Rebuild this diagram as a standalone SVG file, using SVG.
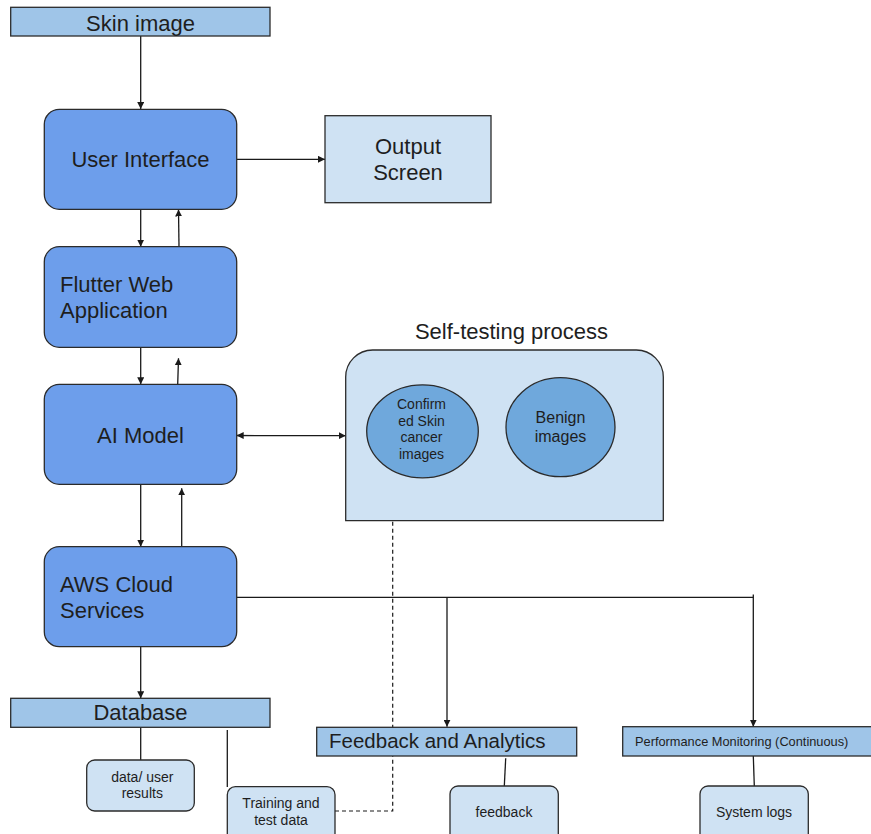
<svg xmlns="http://www.w3.org/2000/svg" width="871" height="834" viewBox="0 0 871 834">
<defs>
<style>
text{font-family:"Liberation Sans",Arial,sans-serif;fill:#1e1e1e}
.big{font-size:22px}
.sm{font-size:14px}
.c{text-anchor:middle}
.dark{fill:#6d9eeb;stroke:#2b2b2b;stroke-width:1.3}
.mid{fill:#9fc5e8;stroke:#2b2b2b;stroke-width:1.3}
.light{fill:#cfe2f3;stroke:#2b2b2b;stroke-width:1.3}
.ell{fill:#6fa8dc;stroke:#2b2b2b;stroke-width:1.3}
.ln{fill:none;stroke:#1a1a1a;stroke-width:1.3}
.dash{fill:none;stroke:#1a1a1a;stroke-width:1.2;stroke-dasharray:4 3}
</style>
<marker id="ah" viewBox="0 0 10 10" refX="10" refY="5" markerWidth="7" markerHeight="7" markerUnits="userSpaceOnUse" orient="auto-start-reverse">
<path d="M0,0 L10,5 L0,10 z" fill="#1a1a1a"/>
</marker>
</defs>
<rect width="871" height="834" fill="#ffffff"/>

<g id="connectors">
<line class="ln" x1="140.7" y1="36" x2="140.7" y2="109" marker-end="url(#ah)"/>
<line class="ln" x1="236.7" y1="159.3" x2="325" y2="159.3" marker-end="url(#ah)"/>
<line class="ln" x1="140.7" y1="209.3" x2="140.7" y2="246.7" marker-end="url(#ah)"/>
<line class="ln" x1="179" y1="246.7" x2="178.5" y2="209.5" marker-end="url(#ah)"/>
<line class="ln" x1="140.7" y1="347.3" x2="140.7" y2="384.3" marker-end="url(#ah)"/>
<line class="ln" x1="177.7" y1="384.3" x2="178.5" y2="358.3" marker-end="url(#ah)"/>
<line class="ln" x1="236.7" y1="435.5" x2="345.7" y2="435.7" marker-start="url(#ah)" marker-end="url(#ah)"/>
<line class="ln" x1="140.7" y1="484.3" x2="140.7" y2="546.7" marker-end="url(#ah)"/>
<line class="ln" x1="181.7" y1="546.7" x2="181.7" y2="488.3" marker-end="url(#ah)"/>
<polyline class="ln" points="236.7,597.3 753.3,597.3"/>
<line class="ln" x1="447" y1="597.3" x2="447" y2="726.7" marker-end="url(#ah)"/>
<line class="ln" x1="753.3" y1="594.5" x2="753.3" y2="726.7" marker-end="url(#ah)"/>
<line class="ln" x1="140.7" y1="646.7" x2="140.7" y2="698.3" marker-end="url(#ah)"/>
<line class="ln" x1="140.7" y1="727.3" x2="140.7" y2="760"/>
<line class="ln" x1="227.3" y1="730" x2="227.3" y2="787"/>
<polyline class="dash" points="335,811 392.7,811 392.7,520.7"/>
<line class="ln" x1="505.7" y1="758.3" x2="504.3" y2="786"/>
<line class="ln" x1="753.3" y1="756" x2="754.3" y2="786"/>
</g>

<g id="skin-image">
<rect class="mid" x="10.7" y="7.3" width="259.3" height="28.7"/>
<text class="big c" x="140.5" y="30.7">Skin image</text>
</g>

<g id="user-interface">
<rect class="dark" x="44.3" y="109.3" width="192.4" height="100" rx="15"/>
<text class="big c" x="140.5" y="166.7">User Interface</text>
</g>

<g id="output-screen">
<rect class="light" x="325" y="115.7" width="166" height="87"/>
<text class="big c" x="408" y="154.3">Output</text>
<text class="big c" x="408" y="180.3">Screen</text>
</g>

<g id="flutter-web-app">
<rect class="dark" x="44.3" y="246.7" width="192.4" height="100.6" rx="15"/>
<text class="big" x="60" y="291.7">Flutter Web</text>
<text class="big" x="60" y="317.5">Application</text>
</g>

<g id="ai-model">
<rect class="dark" x="44.3" y="384.3" width="192.4" height="100" rx="15"/>
<text class="big c" x="140.5" y="442.7">AI Model</text>
</g>

<g id="self-testing-process">
<text class="big c" x="511.5" y="339.3">Self-testing process</text>
<path class="light" d="M345.7,520.7 L345.7,377 A27,27 0 0 1 372.7,350 L636.3,350 A27,27 0 0 1 663.3,377 L663.3,520.7 Z"/>
</g>

<g id="confirmed-skin-cancer">
<ellipse class="ell" cx="422.5" cy="431.3" rx="55.8" ry="46.5"/>
<text class="sm c" x="421.5" y="409">Confirm</text>
<text class="sm c" x="421.5" y="425.5">ed Skin</text>
<text class="sm c" x="421.5" y="442">cancer</text>
<text class="sm c" x="421.5" y="458.5">images</text>
</g>

<g id="benign-images">
<ellipse class="ell" cx="560.5" cy="427.2" rx="54.5" ry="49.5"/>
<text class="c" style="font-size:16px" x="560.5" y="423.3">Benign</text>
<text class="c" style="font-size:16px" x="560.5" y="441.7">images</text>
</g>

<g id="aws-cloud-services">
<rect class="dark" x="44.3" y="546.7" width="192.4" height="100" rx="15"/>
<text class="big" x="60" y="591.7">AWS Cloud</text>
<text class="big" x="60" y="618.3">Services</text>
</g>

<g id="database">
<rect class="mid" x="10.7" y="698.3" width="259.3" height="29"/>
<text class="big c" x="140.5" y="720.3">Database</text>
</g>

<g id="data-user-results">
<rect class="light" x="86.7" y="760" width="107.6" height="51" rx="8"/>
<text class="sm c" x="142.3" y="781.7">data/ user</text>
<text class="sm c" x="142.3" y="798.3">results</text>
</g>

<g id="training-test-data">
<rect class="light" x="227.3" y="786.7" width="107.7" height="56" rx="8"/>
<text class="sm c" x="281" y="808.3">Training and</text>
<text class="sm c" x="281" y="825">test data</text>
</g>

<g id="feedback-analytics">
<rect class="mid" x="316.7" y="727.3" width="260" height="28.7"/>
<text x="329" y="748.3" style="font-size:20.5px">Feedback and Analytics</text>
</g>

<g id="feedback">
<rect class="light" x="450" y="786" width="108.3" height="56" rx="8"/>
<text class="sm c" x="504" y="817.3">feedback</text>
</g>

<g id="performance-monitoring">
<rect class="mid" x="622.7" y="726.7" width="250" height="29.3"/>
<text x="635" y="745.7" style="font-size:12.8px">Performance Monitoring (Continuous)</text>
</g>

<g id="system-logs">
<rect class="light" x="700" y="786" width="108.3" height="56" rx="8"/>
<text class="sm c" x="754" y="817.3">System logs</text>
</g>
</svg>
